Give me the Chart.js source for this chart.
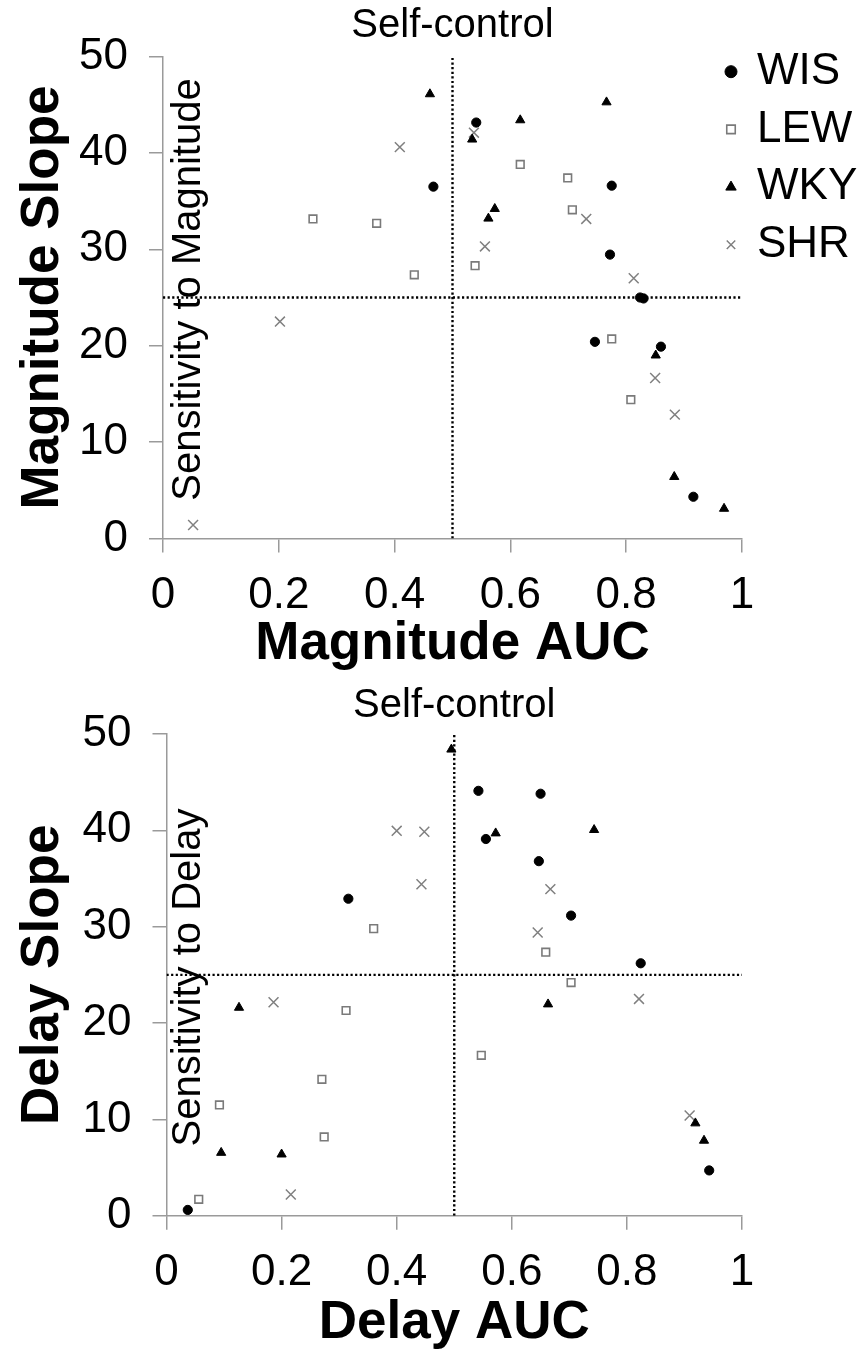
<!DOCTYPE html>
<html>
<head>
<meta charset="utf-8">
<script src="https://cdn.jsdelivr.net/npm/chart.js@4.4.0/dist/chart.umd.min.js"></script>
<style>
html,body{margin:0;padding:0;background:#fff;width:861px;height:1355px;overflow:hidden;}
canvas{position:absolute;left:0;display:block;}
#c1{top:0;}
#c2{top:680px;}
</style>
</head>
<body>
<canvas id="c1" width="861" height="680"></canvas>
<canvas id="c2" width="861" height="675"></canvas>
<script>
// ---------- data ----------
const seriesNames = ['WIS', 'LEW', 'WKY', 'SHR'];
const xTickLabels = ['0', '0.2', '0.4', '0.6', '0.8', '1'];
const yTickLabels = ['0', '10', '20', '30', '40', '50'];

// Panel 1: Magnitude AUC vs Magnitude Slope
const magWIS_x = [0.467, 0.541, 0.775, 0.772, 0.824, 0.830, 0.746, 0.860, 0.916];
const magWIS_y = [36.5, 43.15, 36.6, 29.45, 25.0, 24.9, 20.4, 19.9, 4.33];
const magLEW_x = [0.259, 0.369, 0.434, 0.617, 0.699, 0.707, 0.539, 0.775, 0.808];
const magLEW_y = [33.15, 32.7, 27.35, 38.8, 37.4, 34.1, 28.3, 20.7, 14.4];
const magWKY_x = [0.461, 0.766, 0.534, 0.617, 0.573, 0.562, 0.851, 0.883, 0.969];
const magWKY_y = [46.1, 45.26, 41.4, 43.4, 34.2, 33.2, 19.0, 6.4, 3.1];
const magSHR_x = [0.409, 0.537, 0.731, 0.556, 0.813, 0.202, 0.052, 0.850, 0.884];
const magSHR_y = [40.6, 42.1, 33.15, 30.3, 27.0, 22.5, 1.4, 16.65, 12.85];

// Panel 2: Delay AUC vs Delay Slope
const delWIS_x = [0.316, 0.542, 0.650, 0.555, 0.647, 0.703, 0.824, 0.037, 0.943];
const delWIS_y = [32.9, 44.1, 43.8, 39.1, 36.8, 31.15, 26.2, 0.6, 4.7];
const delLEW_x = [0.360, 0.659, 0.312, 0.270, 0.092, 0.274, 0.056, 0.703, 0.547];
const delLEW_y = [29.8, 27.35, 21.3, 14.16, 11.5, 8.17, 1.7, 24.2, 16.65];
const delWKY_x = [0.495, 0.572, 0.743, 0.126, 0.095, 0.200, 0.663, 0.919, 0.934];
const delWKY_y = [48.4, 39.7, 40.05, 21.6, 6.54, 6.37, 21.95, 9.6, 7.8];
const delSHR_x = [0.400, 0.448, 0.443, 0.667, 0.645, 0.186, 0.216, 0.821, 0.909];
const delSHR_y = [39.95, 39.85, 34.4, 33.9, 29.4, 22.16, 2.2, 22.5, 10.4];

// reference lines (AUC = 0.5, Slope = 25)
const refAUC = 0.5;
const refSlope = 25;
const yMax = 50;

// ---------- styling ----------
const FONT = '"Liberation Sans", Arial, Helvetica, sans-serif';
Chart.defaults.font.family = FONT;
Chart.defaults.color = '#000';

const markerStyle = {
  WIS: {pointStyle: 'circle',   pointRadius: 4.6, backgroundColor: '#000', borderColor: '#000', borderWidth: 1},
  LEW: {pointStyle: 'rect',     pointRadius: 5.4, backgroundColor: '#fff', borderColor: '#7a7a7a', borderWidth: 1.6},
  WKY: {pointStyle: 'triangle', pointRadius: 5.3, backgroundColor: '#000', borderColor: '#000', borderWidth: 1},
  SHR: {pointStyle: 'crossRot', pointRadius: 7,   backgroundColor: '#808080', borderColor: '#808080', borderWidth: 1.5}
};

function pts(xs, ys) { return xs.map((x, i) => ({x: x, y: ys[i]})); }

function buildDatasets(xsList, ysList) {
  const ds = seriesNames.map((name, k) => Object.assign({
    label: name,
    data: pts(xsList[k], ysList[k]),
    pointHoverRadius: markerStyle[name].pointRadius,
    showLine: false
  }, markerStyle[name]));
  ds.push({
    label: '',
    data: [{x: refAUC, y: 0}, {x: refAUC, y: yMax}],
    showLine: true, borderColor: '#000', borderWidth: 2.4, borderDash: [2.2, 2.4],
    pointRadius: 0, fill: false
  });
  ds.push({
    label: '',
    data: [{x: 0, y: refSlope}, {x: 1, y: refSlope}],
    showLine: true, borderColor: '#000', borderWidth: 2.4, borderDash: [2.2, 2.4],
    pointRadius: 0, fill: false
  });
  return ds;
}

const innerLabel = {
  id: 'innerLabel',
  beforeDatasetsDraw(chart, args, opts) {
    if (!opts || !opts.text) return;
    const ctx = chart.ctx;
    ctx.save();
    ctx.translate(opts.x, opts.y);
    ctx.rotate(-Math.PI / 2);
    ctx.font = '40px ' + FONT;
    ctx.fillStyle = '#000';
    ctx.textAlign = 'center';
    ctx.textBaseline = 'middle';
    ctx.fillText(opts.text, 0, 0);
    ctx.restore();
  }
};

const legendPlacer = {
  id: 'legendPlacer',
  afterLayout(chart, args, opts) {
    const lg = chart.legend;
    if (!lg || opts.left === undefined) return;
    lg.left = opts.left; lg.right = chart.width;
    lg.top = opts.top; lg.bottom = opts.top + 500;
    lg.width = lg.right - lg.left; lg.height = 500;
  }
};

const GRAY = '#9a9a9a';

function makeChart(canvasId, cfg) {
  return new Chart(document.getElementById(canvasId), {
    type: 'scatter',
    data: {datasets: buildDatasets(cfg.xs, cfg.ys)},
    plugins: [innerLabel, legendPlacer],
    options: {
      responsive: false,
      animation: false,
      events: [],
      layout: {autoPadding: false, padding: {left: 0, right: 861 - 742, top: 0, bottom: 0}},
      plugins: {
        tooltip: {enabled: false},
        title: {display: false},
        legend: {
          display: cfg.legend,
          position: 'chartArea',
          align: 'start',
          labels: {
            usePointStyle: true,
            boxWidth: 8, boxHeight: 8.5,
            padding: 13.7,
            color: '#000',
            font: {size: 44, family: FONT},
            filter: (item) => item.text !== ''
          }
        },
        legendPlacer: cfg.legend ? {left: 713.3, top: 36} : {},
        innerLabel: {text: cfg.inner, x: 189, y: cfg.innerY}
      },
      scales: {
        x: {
          type: 'linear', position: 'bottom', min: 0, max: 1,
          grid: {display: true, drawOnChartArea: false, drawTicks: true, tickLength: 14, color: GRAY, lineWidth: 1.5},
          border: {display: true, color: GRAY, width: 1.5},
          ticks: {stepSize: 0.2, padding: 17, font: {size: 44}, color: '#000',
                  callback: (v, i) => xTickLabels[i]},
          title: {display: true, text: cfg.xTitle, font: {size: 53, weight: 'bold'}, color: '#000',
                  padding: {top: 0, bottom: cfg.xTitlePad}},
          afterFit: (s) => { s.height = cfg.xAxisH; }
        },
        xTop: {
          type: 'linear', axis: 'x', position: 'top', min: 0, max: 1,
          grid: {display: false, drawTicks: false},
          border: {display: false},
          ticks: {display: false},
          title: {display: true, text: 'Self-control', font: {size: 40}, color: '#000', padding: {top: 2, bottom: 0}},
          afterFit: (s) => { s.height = cfg.topH; }
        },
        y: {
          type: 'linear', position: 'left', min: 0, max: yMax,
          grid: {display: true, drawOnChartArea: false, drawTicks: true, tickLength: 14, color: GRAY, lineWidth: 1.5},
          border: {display: true, color: GRAY, width: 1.5},
          ticks: {stepSize: 10, padding: 21, font: {size: 44}, color: '#000',
                  callback: (v, i) => yTickLabels[i]},
          title: {display: true, text: cfg.yTitle, font: {size: 53, weight: 'bold'}, color: '#000',
                  padding: {top: 12, bottom: 0}},
          afterFit: (s) => { s.width = cfg.leftW; }
        }
      }
    }
  });
}

makeChart('c1', {
  xs: [magWIS_x, magLEW_x, magWKY_x, magSHR_x],
  ys: [magWIS_y, magLEW_y, magWKY_y, magSHR_y],
  legend: true,
  xTitle: 'Magnitude AUC', yTitle: 'Magnitude Slope',
  inner: 'Sensitivity to Magnitude', innerY: 289.5,
  leftW: 163, topH: 56.5, xAxisH: 680 - 538.5, xTitlePad: 3.7
});

makeChart('c2', {
  xs: [delWIS_x, delLEW_x, delWKY_x, delSHR_x],
  ys: [delWIS_y, delLEW_y, delWKY_y, delSHR_y],
  legend: false,
  xTitle: 'Delay AUC', yTitle: 'Delay Slope',
  inner: 'Sensitivity to Delay', innerY: 297.5,
  leftW: 166.5, topH: 54, xAxisH: 675 - 535.7, xTitlePad: 0
});
</script>
</body>
</html>
